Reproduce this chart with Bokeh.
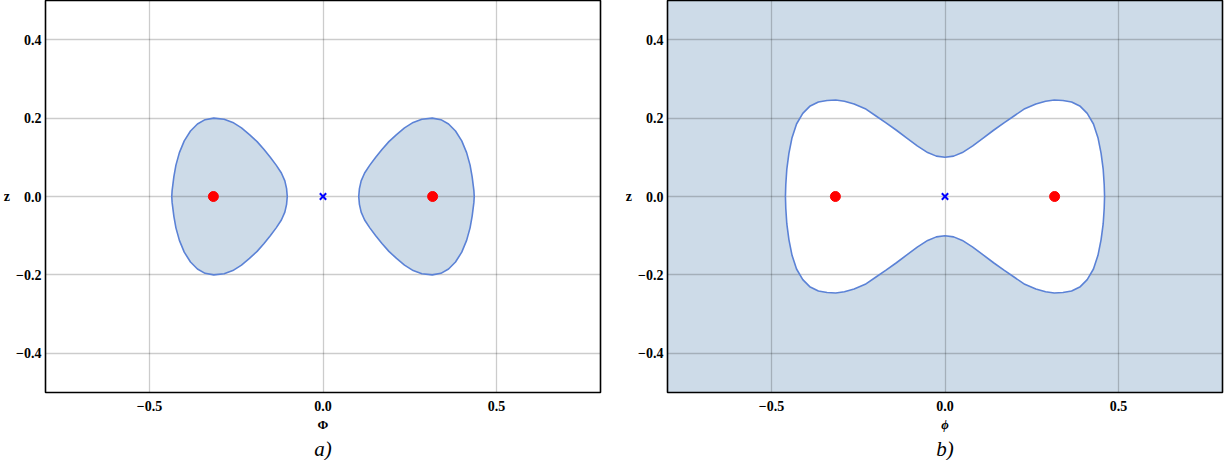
from bokeh.plotting import figure
from bokeh.layouts import row
from bokeh.models import FixedTicker, Range1d, Title
from bokeh.embed import file_html
from bokeh.resources import INLINE

# ---------------- data ----------------
X_TICKS = [-0.5, 0.0, 0.5]
X_TICK_LABELS = ["−0.5", "0.0", "0.5"]
Y_TICKS = [-0.4, -0.2, 0.0, 0.2, 0.4]
Y_TICK_LABELS = ["−0.4", "−0.2", "0.0", "0.2", "0.4"]
X_RANGE = (-0.8, 0.8)
Y_RANGE = (-0.5, 0.5)

# panel a): left closed region
LEFT_BLOB_X = [-0.103, -0.105, -0.110, -0.120, -0.135, -0.152, -0.170, -0.190, -0.212, -0.235,
               -0.260, -0.285, -0.315, -0.340, -0.362, -0.382, -0.400, -0.414, -0.424, -0.430,
               -0.435, -0.436,
               -0.435, -0.430, -0.424, -0.414, -0.400, -0.382, -0.362, -0.340, -0.315, -0.285,
               -0.260, -0.235, -0.212, -0.190, -0.170, -0.152, -0.135, -0.120, -0.110, -0.105,
               -0.103]
LEFT_BLOB_Y = [0.000, 0.020, 0.040, 0.060, 0.080, 0.100, 0.120, 0.140, 0.158, 0.175,
               0.189, 0.197, 0.200, 0.196, 0.185, 0.167, 0.142, 0.112, 0.080, 0.050,
               0.015, 0.000,
               -0.015, -0.050, -0.080, -0.112, -0.142, -0.167, -0.185, -0.196, -0.200, -0.197,
               -0.189, -0.175, -0.158, -0.140, -0.120, -0.100, -0.080, -0.060, -0.040, -0.020,
               0.000]
# panel a): right closed region
RIGHT_BLOB_X = [0.103, 0.105, 0.110, 0.120, 0.135, 0.152, 0.170, 0.190, 0.212, 0.235,
                0.260, 0.285, 0.315, 0.340, 0.362, 0.382, 0.400, 0.414, 0.424, 0.430,
                0.435, 0.436,
                0.435, 0.430, 0.424, 0.414, 0.400, 0.382, 0.362, 0.340, 0.315, 0.285,
                0.260, 0.235, 0.212, 0.190, 0.170, 0.152, 0.135, 0.120, 0.110, 0.105,
                0.103]
RIGHT_BLOB_Y = [0.000, 0.020, 0.040, 0.060, 0.080, 0.100, 0.120, 0.140, 0.158, 0.175,
                0.189, 0.197, 0.200, 0.196, 0.185, 0.167, 0.142, 0.112, 0.080, 0.050,
                0.015, 0.000,
                -0.015, -0.050, -0.080, -0.112, -0.142, -0.167, -0.185, -0.196, -0.200, -0.197,
                -0.189, -0.175, -0.158, -0.140, -0.120, -0.100, -0.080, -0.060, -0.040, -0.020,
                0.000]

# panel b): bow-tie shaped boundary
BOW_X = [-0.460, -0.459, -0.456, -0.450, -0.441, -0.428, -0.410, -0.390, -0.365, -0.340,
         -0.315, -0.290, -0.262, -0.230, -0.200, -0.170, -0.140, -0.110, -0.080, -0.050,
         -0.025, 0.000, 0.025, 0.050, 0.080, 0.110, 0.140, 0.170, 0.200, 0.230,
         0.262, 0.290, 0.315, 0.340, 0.365, 0.390, 0.410, 0.428, 0.441, 0.450,
         0.456, 0.459, 0.460,
         0.459, 0.456, 0.450, 0.441, 0.428, 0.410, 0.390, 0.365, 0.340, 0.315,
         0.290, 0.262, 0.230, 0.200, 0.170, 0.140, 0.110, 0.080, 0.050, 0.025,
         0.000, -0.025, -0.050, -0.080, -0.110, -0.140, -0.170, -0.200, -0.230, -0.262,
         -0.290, -0.315, -0.340, -0.365, -0.390, -0.410, -0.428, -0.441, -0.450, -0.456,
         -0.459, -0.460]
BOW_Y = [0.000, 0.030, 0.070, 0.110, 0.150, 0.185, 0.212, 0.230, 0.241, 0.245,
         0.246, 0.243, 0.236, 0.224, 0.206, 0.188, 0.169, 0.149, 0.129, 0.112,
         0.103, 0.100, 0.103, 0.112, 0.129, 0.149, 0.169, 0.188, 0.206, 0.224,
         0.236, 0.243, 0.246, 0.245, 0.241, 0.230, 0.212, 0.185, 0.150, 0.110,
         0.070, 0.030, 0.000,
         -0.030, -0.070, -0.110, -0.150, -0.185, -0.212, -0.230, -0.241, -0.245, -0.246,
         -0.243, -0.236, -0.224, -0.206, -0.188, -0.169, -0.149, -0.129, -0.112, -0.103,
         -0.100, -0.103, -0.112, -0.129, -0.149, -0.169, -0.188, -0.206, -0.224, -0.236,
         -0.243, -0.246, -0.245, -0.241, -0.230, -0.212, -0.185, -0.150, -0.110, -0.070,
         -0.030, 0.000]

CENTER_X = [-0.316, 0.316]
CENTER_Y = [0.0, 0.0]
SADDLE_X = [0.0]
SADDLE_Y = [0.0]

X_LABELS = ["Φ", "ϕ"]
Y_LABEL = "z"
PANEL_TAGS = ["a)", "b)"]

# ---------------- styling ----------------
FILL = "#cddbe8"
EDGE = "#5b82d6"
SERIF = "Liberation Serif"


def base_figure(xlabel, xlabel_style, tag, left, right):
    p = figure(frame_width=555, frame_height=392,
               x_range=Range1d(*X_RANGE), y_range=Range1d(*Y_RANGE),
               output_backend="svg", toolbar_location=None,
               min_border_left=left, min_border_right=right,
               min_border_top=0, min_border_bottom=0)
    p.outline_line_color = "black"
    p.outline_line_width = 1.6
    p.background_fill_color = "white"
    p.border_fill_color = "white"
    p.xaxis.ticker = FixedTicker(ticks=X_TICKS)
    p.yaxis.ticker = FixedTicker(ticks=Y_TICKS)
    p.xaxis.major_label_overrides = dict(zip(X_TICKS, X_TICK_LABELS))
    p.yaxis.major_label_overrides = dict(zip(Y_TICKS, Y_TICK_LABELS))
    for ax in (p.xaxis, p.yaxis):
        ax.axis_line_color = None
        ax.major_tick_line_color = None
        ax.minor_tick_line_color = None
        ax.major_tick_in = 0
        ax.major_tick_out = 0
        ax.minor_tick_in = 0
        ax.minor_tick_out = 0
        ax.major_label_text_font = SERIF
        ax.major_label_text_font_style = "bold"
        ax.major_label_text_font_size = "14px"
        ax.major_label_text_color = "black"
        ax.axis_label_text_color = "black"
        ax.axis_label_text_font = SERIF
    p.xaxis.major_label_standoff = 8
    p.yaxis.major_label_standoff = 4
    p.xaxis.axis_label = xlabel
    p.xaxis.axis_label_text_font_style = xlabel_style
    p.xaxis.axis_label_text_font_size = "13px"
    p.xaxis.axis_label_standoff = 3
    p.yaxis.axis_label = Y_LABEL
    p.yaxis.axis_label_text_font_style = "bold"
    p.yaxis.axis_label_text_font_size = "14px"
    p.yaxis.axis_label_standoff = 3
    p.yaxis.axis_label_orientation = "horizontal"
    for g in (p.xgrid, p.ygrid):
        g.grid_line_color = "black"
        g.grid_line_alpha = 0.2
        g.grid_line_width = 1.3
    p.xgrid.ticker = FixedTicker(ticks=X_TICKS)
    p.ygrid.ticker = FixedTicker(ticks=Y_TICKS)
    t = Title(text=tag, align="center", text_font=SERIF, text_font_style="italic",
              text_font_size="21px", text_color="black", standoff=0)
    p.add_layout(t, "below")
    return p


def markers(p):
    p.scatter(CENTER_X, CENTER_Y, marker="circle", size=10, fill_color="#ff0000",
              line_color="#ff0000")
    p.scatter(SADDLE_X, SADDLE_Y, marker="x", size=9, line_color="#0000ff", line_width=2)


# panel a)
pa = base_figure(X_LABELS[0], "bold", PANEL_TAGS[0], 45, 22)
for bx, by in ((LEFT_BLOB_X, LEFT_BLOB_Y), (RIGHT_BLOB_X, RIGHT_BLOB_Y)):
    pa.patch(bx, by, fill_color=FILL, line_color=None, level="image")
    pa.line(bx, by, line_color=EDGE, line_width=1.6)
markers(pa)

# panel b)
pb = base_figure(X_LABELS[1], "bold italic", PANEL_TAGS[1], 45, 2)
pb.background_fill_color = FILL
pb.patch(BOW_X, BOW_Y, fill_color="white", line_color=None, level="image")
pb.line(BOW_X, BOW_Y, line_color=EDGE, line_width=1.6)
markers(pb)

layout = row(pa, pb)
open("out.html", "w").write(file_html(layout, INLINE))
